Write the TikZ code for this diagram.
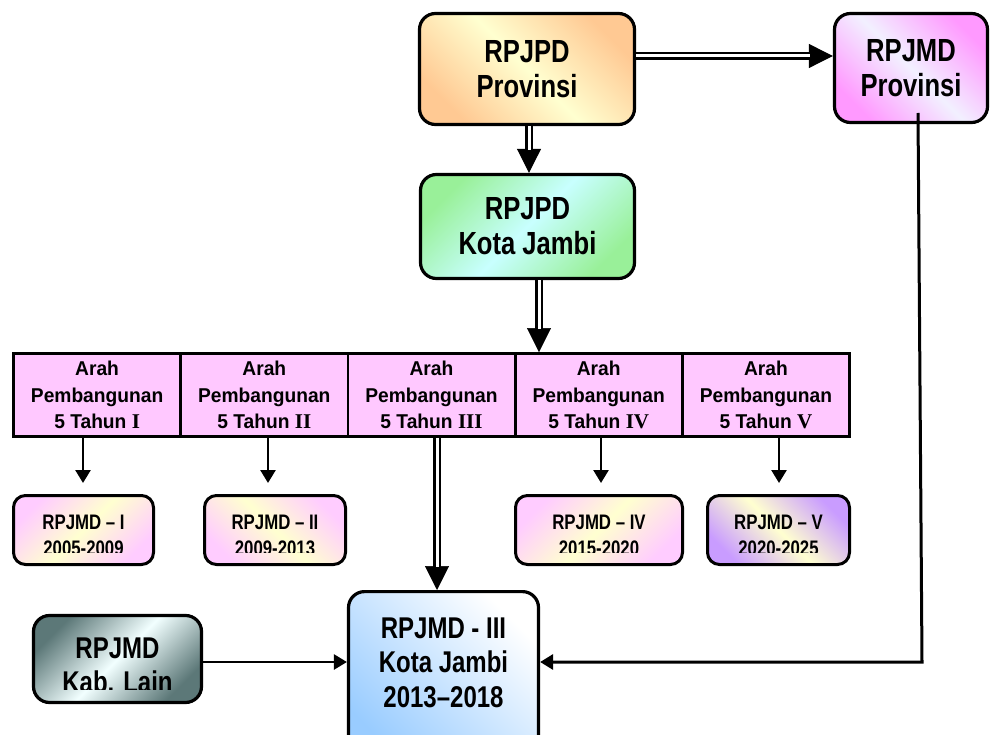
\documentclass[tikz,border=0pt]{standalone}
\usepackage{fontspec}
\usetikzlibrary{arrows.meta}
\newfontfamily\bigf[FakeStretch=0.8]{Liberation Sans}
\newfontfamily\barf[FakeStretch=0.96]{Liberation Sans}
\newfontfamily\romf{Liberation Serif}
\newcommand\romnum[1]{{\romf\fontsize{21}{26.5}\selectfont #1}}
\definecolor{cOrange}{HTML}{FFC993}
\definecolor{cPaleY}{HTML}{FFFFD0}
\definecolor{cMag}{HTML}{FF99FF}
\definecolor{cLav}{HTML}{F2F0FF}
\definecolor{cGreen}{HTML}{99F099}
\definecolor{cCyan}{HTML}{C8FFFF}
\definecolor{cPink}{HTML}{FFCCFF}
\definecolor{cPurple}{HTML}{C99CFF}
\definecolor{cBlue}{HTML}{99CCFF}
\definecolor{cSlate}{HTML}{5C7878}
\definecolor{cIce}{HTML}{F2FFFF}
\definecolor{cBar}{HTML}{FFC8FF}
\tikzset{
  box/.style={draw=black, line width=3.2pt, rounded corners=16pt, inner sep=0pt, align=center},
  sbox/.style={draw=black, line width=3pt, rounded corners=12pt, inner sep=0pt, minimum height=69pt},
  bigtxt/.style={font=\bigf\bfseries\fontsize{32}{35}\selectfont, align=center, inner sep=0pt},
  midtxt/.style={font=\bigf\bfseries\fontsize{30}{34.5}\selectfont, align=center, inner sep=0pt},
  smalltxt/.style={font=\bigf\bfseries\fontsize{21}{26}\selectfont, align=center, inner sep=0pt},
  cell/.style={draw=black, line width=2.8pt, fill=cBar, minimum width=167.2pt, minimum height=83pt,
    inner sep=0pt, align=center, font=\barf\bfseries\fontsize{20}{26.5}\selectfont},
  grad/.style n args={3}{top color=#2, bottom color=#2, middle color=#3, shading angle=#1},
  arr/.style={line width=2.6pt, -{Triangle[length=13pt,width=15pt]}},
  dtip/.style={line width=0.5pt, -{Triangle[length=24pt,width=24pt]}},
  dbl/.style={draw=black, line width=2.4pt, double=white, double distance=3pt, shorten >=23.2pt},
}
\begin{document}
\begin{tikzpicture}[x=1pt,y=-1pt]
\useasboundingbox (0,0) rectangle (990,735);

% top boxes
\node[box, bigtxt, grad={-45}{cOrange}{cPaleY}, minimum width=215pt, minimum height=111pt] (pp) at (527,69) {RPJPD\\Provinsi};
\node[box, bigtxt, grad={-45}{cMag}{cLav}, minimum width=153pt, minimum height=109pt] (mp) at (911,68) {RPJMD\\Provinsi};
\node[box, bigtxt, grad={45}{cGreen}{cCyan}, minimum width=214pt, minimum height=104pt] (kj) at (527.5,226.5) {RPJPD\\Kota Jambi};

% bar of five cells
\node[cell] (a1) at (97.1,395) {Arah\\Pembangunan\\5 Tahun \romnum{I}};
\node[cell] (a2) at (264.3,395) {Arah\\Pembangunan\\5 Tahun \romnum{II}};
\node[cell] (a3) at (431.5,395) {Arah\\Pembangunan\\5 Tahun \romnum{III}};
\node[cell] (a4) at (598.7,395) {Arah\\Pembangunan\\5 Tahun \romnum{IV}};
\node[cell] (a5) at (765.9,395) {Arah\\Pembangunan\\5 Tahun \romnum{V}};

% small RPJMD boxes
\node[sbox, grad={45}{cPink}{cPaleY}, minimum width=140pt] (r1) at (83.5,530) {};
\node[sbox, grad={-45}{cPink}{cPaleY}, minimum width=141pt] (r2) at (275,530) {};
\node[sbox, grad={45}{cPink}{cPaleY}, minimum width=167pt] (r4) at (599,530) {};
\node[sbox, grad={-45}{cPurple}{cPaleY}, minimum width=142pt] (r5) at (778.5,530) {};
\begin{scope}
  \clip (0,490) rectangle (990,552);
  \node[smalltxt] (t1) at ([yshift=-5.5pt]r1.center) {RPJMD – I\\2005-2009};
  \node[smalltxt] (t2) at ([yshift=-5.5pt]r2.center) {RPJMD – II\\2009-2013};
  \node[smalltxt] (t4) at ([yshift=-5.5pt]r4.center) {RPJMD – IV\\2015-2020};
  \node[smalltxt] (t5) at ([yshift=-5.5pt]r5.center) {RPJMD – V\\2020-2025};
\end{scope}

% bottom boxes
\node[box, grad={45}{cSlate}{cIce}, minimum width=168pt, minimum height=87pt] (kab) at (117.5,659) {};
\begin{scope}
  \clip (0,600) rectangle (300,689);
  \node[midtxt] (kabt) at ([yshift=-6.5pt]kab.center) {RPJMD\\Kab. Lain};
\end{scope}
\node[box, top color=white, bottom color=cBlue, shading angle=-45, minimum width=190pt, minimum height=170pt] (III) at (443.5,676.6) {};
\node[midtxt] (IIIt) at (443.5,662.5) {RPJMD - III\\Kota Jambi\\2013–2018};

% helper coordinates
\coordinate (h0) at (0,56);
\coordinate (v1) at (529,0);
\coordinate (v2) at (539,0);
\coordinate (v3) at (437,0);
\coordinate (e1) at (83,483);
\coordinate (e2) at (268,483);
\coordinate (e4) at (601,483);
\coordinate (e5) at (779,483);
\coordinate (h1) at (0,662);
\coordinate (m1) at (918,113);
\coordinate (m2) at (922,662);

% double arrows
\draw[dtip] (pp.east |- h0) -- (mp.west |- h0);
\draw[dbl]  (pp.east |- h0) -- (mp.west |- h0);
\draw[dtip] (pp.south -| v1) -- (kj.north -| v1);
\draw[dbl]  (pp.south -| v1) -- (kj.north -| v1);
\draw[dtip] (kj.south -| v2) -- (a4.north -| v2);
\draw[dbl]  (kj.south -| v2) -- (a4.north -| v2);
\draw[dtip] (a3.south -| v3) -- (III.north -| v3);
\draw[dbl]  (a3.south -| v3) -- (III.north -| v3);

% single arrows
\draw[arr] (a1.south -| e1) -- (e1);
\draw[arr] (a2.south -| e2) -- (e2);
\draw[arr] (a4.south -| e4) -- (e4);
\draw[arr] (a5.south -| e5) -- (e5);
\draw[arr] (kab.east |- h1) -- (III.west |- h1);
\draw[line width=3pt, -{Triangle[length=13pt,width=15pt]}] (m1) -- (m2) -- (III.east |- m2);
\end{tikzpicture}
\end{document}
